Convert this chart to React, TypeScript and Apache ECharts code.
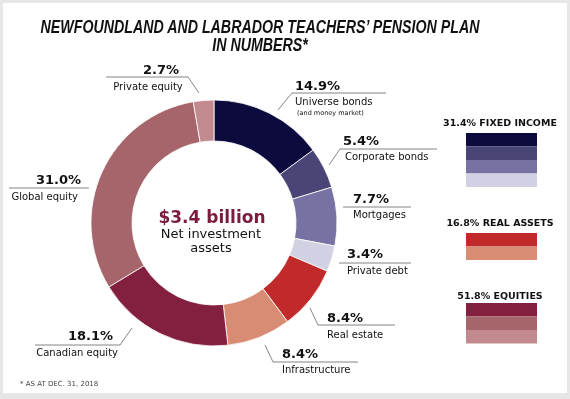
import React, { useEffect, useRef } from 'react';
import * as echarts from 'echarts';

const categories = ['Universe bonds', 'Corporate bonds', 'Mortgages', 'Private debt', 'Real estate', 'Infrastructure', 'Canadian equity', 'Global equity', 'Private equity'];
const values = [14.9, 5.4, 7.7, 3.4, 8.4, 8.4, 18.1, 31.0, 2.7];
const subNotes = ['(and money market)', '', '', '', '', '', '', '', ''];
const sliceColors = ['#0d0b3e', '#4a4577', '#7672a3', '#d2d1e3', '#c02a2a', '#d98c74', '#84203f', '#a5656b', '#c28a8e'];
const groupNames = ['FIXED INCOME', 'REAL ASSETS', 'EQUITIES'];
const groupValues = [31.4, 16.8, 51.8];
const groupMembers = [[0, 1, 2, 3], [4, 5], [6, 7, 8]];
const titleLines = ['NEWFOUNDLAND AND LABRADOR TEACHERS\u2019 PENSION PLAN', 'IN NUMBERS*'];
const centerValue = '$3.4 billion';
const centerCaption = ['Net investment', 'assets'];
const footnote = '* AS AT DEC. 31, 2018';

// callout layout (positions only)
const callouts = [
  { px: 295, py: 85, pa: 'left', nx: 295, ny: 101, na: 'left', pts: [[278, 110], [292, 93], [386, 93]] },
  { px: 343, py: 140, pa: 'left', nx: 345, ny: 156, na: 'left', pts: [[329, 165], [340, 149], [437, 149]] },
  { px: 353, py: 198, pa: 'left', nx: 353, ny: 214.5, na: 'left', pts: [[343, 207], [411, 207]] },
  { px: 347, py: 253.5, pa: 'left', nx: 347, ny: 270.5, na: 'left', pts: [[339, 263], [411, 263]] },
  { px: 327, py: 317, pa: 'left', nx: 327, ny: 334, na: 'left', pts: [[310, 308], [318, 325], [395, 325]] },
  { px: 282, py: 353, pa: 'left', nx: 282, ny: 369.5, na: 'left', pts: [[265, 345], [273, 362], [358, 362]] },
  { px: 113, py: 335, pa: 'right', nx: 118, ny: 352, na: 'right', pts: [[132, 328], [120, 345], [35, 345]] },
  { px: 81, py: 179, pa: 'right', nx: 78, ny: 196, na: 'right', pts: [[9, 188], [89, 188]] },
  { px: 161, py: 69, pa: 'center', nx: 148, ny: 86, na: 'center', pts: [[106, 77], [188, 77], [199, 93]] },
];
const legendLayout = [
  { hy: 122, top: 133 },
  { hy: 222, top: 233 },
  { hy: 295, top: 303 },
];

const SANS = '"DejaVu Sans", sans-serif';

export default function App() {
  const ref = useRef<HTMLDivElement>(null);
  useEffect(() => {
    if (!ref.current) return;
    const chart = echarts.init(ref.current, undefined, { renderer: 'svg' });
    const graphics: any[] = [];
    graphics.push({ type: 'rect', z: -10, shape: { x: 0, y: 0, width: 570, height: 399 }, style: { fill: '#e6e6e6' } });
    graphics.push({ type: 'rect', z: -9, shape: { x: 3, y: 3, width: 564, height: 390 }, style: { fill: '#ffffff' } });
    titleLines.forEach((t, i) => {
      graphics.push({
        type: 'text', x: 260, y: 26 + i * 18, scaleX: 0.79,
        style: { text: t, fill: '#111', font: 'italic bold 18px "Liberation Sans", sans-serif', align: 'center', verticalAlign: 'middle' },
      });
    });
    // center text
    graphics.push({ type: 'text', x: 212, y: 216.5, style: { text: centerValue, fill: '#7b1c3c', font: `bold 17px ${SANS}`, align: 'center', verticalAlign: 'middle' } });
    centerCaption.forEach((t, i) => {
      graphics.push({ type: 'text', x: 211, y: 233 + i * 14, style: { text: t, fill: '#111', font: `13px ${SANS}`, align: 'center', verticalAlign: 'middle' } });
    });
    // callouts
    categories.forEach((name, i) => {
      const c = callouts[i];
      graphics.push({ type: 'polyline', shape: { points: c.pts }, style: { stroke: '#666', lineWidth: 0.8, fill: 'none' } });
      graphics.push({ type: 'text', x: c.px, y: c.py, style: { text: values[i].toFixed(1) + '%', fill: '#111', font: `bold 13px ${SANS}`, align: c.pa, verticalAlign: 'middle' } });
      graphics.push({ type: 'text', x: c.nx, y: c.ny, style: { text: name, fill: '#111', font: `10px ${SANS}`, align: c.na, verticalAlign: 'middle' } });
      if (subNotes[i]) {
        graphics.push({ type: 'text', x: c.nx + 2, y: c.ny + 12, style: { text: subNotes[i], fill: '#111', font: `6.5px ${SANS}`, align: 'left', verticalAlign: 'middle' } });
      }
    });
    // legend groups
    groupNames.forEach((g, gi) => {
      const L = legendLayout[gi];
      graphics.push({ type: 'text', x: 500, y: L.hy, style: { text: groupValues[gi].toFixed(1) + '% ' + g, fill: '#111', font: `bold 9.5px ${SANS}`, align: 'center', verticalAlign: 'middle' } });
      groupMembers[gi].forEach((m, k) => {
        graphics.push({ type: 'rect', shape: { x: 466, y: L.top + k * 13.5, width: 71, height: 13.5 }, style: { fill: sliceColors[m] } });
      });
    });
    graphics.push({ type: 'text', x: 20, y: 383.5, style: { text: footnote, fill: '#444', font: `7px ${SANS}`, align: 'left', verticalAlign: 'middle' } });

    chart.setOption({
      animation: false,
      graphic: graphics,
      series: [
        {
          type: 'pie',
          center: [214, 223],
          radius: [82, 123],
          startAngle: 90,
          clockwise: true,
          label: { show: false },
          labelLine: { show: false },
          silent: true,
          itemStyle: { borderColor: '#ffffff', borderWidth: 0.8 },
          data: categories.map((n, i) => ({ name: n, value: values[i], itemStyle: { color: sliceColors[i] } })),
        },
      ],
    });
    return () => chart.dispose();
  }, []);
  return <div ref={ref} style={{ position: 'fixed', left: 0, top: 0, width: 570, height: 399 }} />;
}
